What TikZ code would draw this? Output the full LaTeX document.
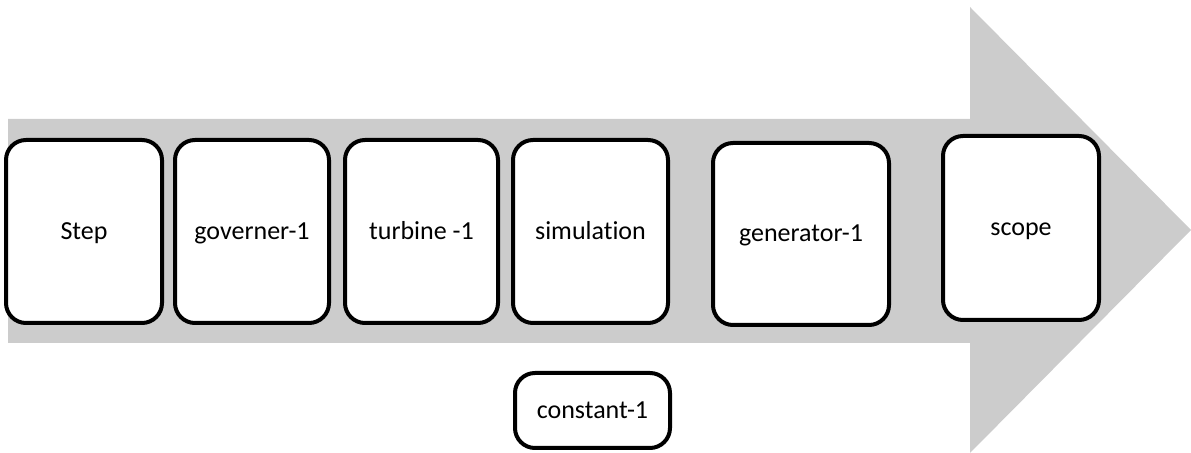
\documentclass[tikz,border=0pt]{standalone}
\usepackage{fontspec}
\setmainfont{Carlito}[Ligatures=NoCommon]
\begin{document}
\begin{tikzpicture}[x=0.5pt,y=-0.5pt,
  blk/.style={draw=black,line width=2pt,fill=white,rounded corners=10pt,font=\fontsize{13}{15}\selectfont,inner sep=0pt,text height=9.5pt,text depth=1.5pt}]
\useasboundingbox (0,0) rectangle (1191,453);
\fill[black!20] (8,119) -- (970,119) -- (970,7) -- (1191,230) -- (970,453) -- (970,343) -- (8,343) -- cycle;
\node[blk,minimum width=78pt,minimum height=91.5pt] (step) at (84,231.5) {Step};
\node[blk,minimum width=77pt,minimum height=91.5pt] (gov) at (252,231.5) {governer-1};
\node[blk,minimum width=76.5pt,minimum height=91.5pt] (turb) at (421.5,231.5) {turbine -1};
\node[blk,minimum width=77.5pt,minimum height=91.5pt] (sim) at (590.5,231.5) {simulation};
\node[blk,minimum width=88pt,minimum height=91pt] (gen) at (801,234) {generator-1};
\node[blk,minimum width=78pt,minimum height=92pt] (scope) at (1021,228) {scope};
\node[blk,minimum width=77.5pt,minimum height=37.5pt] (const) at (592.5,410.5) {constant-1};
\end{tikzpicture}
\end{document}
